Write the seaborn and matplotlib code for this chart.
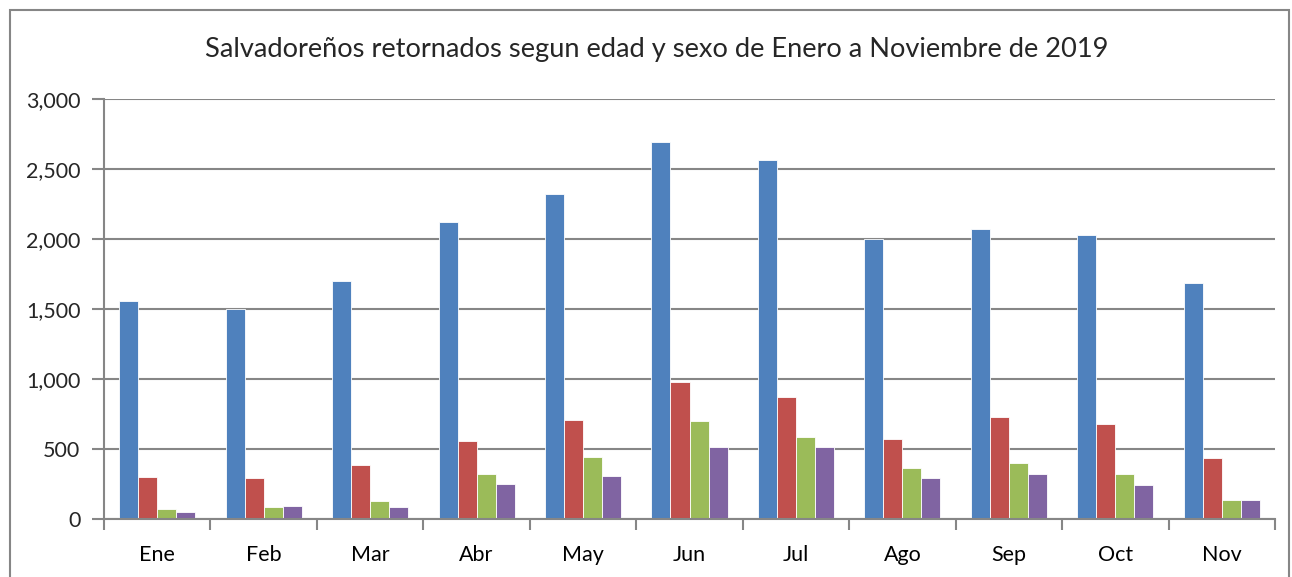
import numpy as np
import pandas as pd
import matplotlib
matplotlib.use("Agg")
import matplotlib.pyplot as plt
import seaborn as sns
from matplotlib.patches import Rectangle

meses = ["Ene", "Feb", "Mar", "Abr", "May", "Jun", "Jul", "Ago", "Sep", "Oct", "Nov"]
serie_a = [1555, 1500, 1702, 2121, 2319, 2690, 2566, 2002, 2071, 2028, 1685]
serie_b = [302, 293, 388, 555, 705, 976, 871, 569, 728, 676, 438]
serie_c = [69, 83, 131, 321, 445, 698, 585, 364, 398, 324, 136]
serie_d = [48, 90, 83, 248, 307, 512, 512, 290, 324, 243, 136]
series_names = ["Serie 1", "Serie 2", "Serie 3", "Serie 4"]
colors = ["#4F81BD", "#C0504D", "#9BBB59", "#8064A2"]
yticks = [0, 500, 1000, 1500, 2000, 2500, 3000]

rows = []
for name, vals in zip(series_names, [serie_a, serie_b, serie_c, serie_d]):
    for m, v in zip(meses, vals):
        rows.append({"mes": m, "serie": name, "valor": v})
df = pd.DataFrame(rows)

sns.set_theme(style="white")
plt.rcParams["font.family"] = ["Lato", "DejaVu Sans"]

fig = plt.figure(figsize=(12.92, 5.77), dpi=100)
ax = fig.add_axes([104/1292, 1-519/577, (1275-104)/1292, (519-99)/577])

sns.barplot(data=df, x="mes", y="valor", hue="serie", order=meses,
            hue_order=series_names, palette=colors, width=0.714,
            saturation=1, edgecolor="white", linewidth=0.6, ax=ax, legend=False)

ax.set_ylim(0, 3000)
ax.set_xlim(-0.5, len(meses) - 0.5)
ax.set_yticks(yticks)
ax.set_yticklabels([f"{v:,}" for v in yticks], fontsize=15.5)
ax.set_xticks(range(len(meses)))
ax.set_xticklabels(meses, fontsize=15.5)
ax.set_xticks(np.arange(-0.5, len(meses), 1), minor=True)
ax.tick_params(axis="x", which="major", length=0, pad=19, colors="black")
ax.tick_params(axis="x", which="minor", length=8, width=1.5, color="#868686", bottom=True)
ax.tick_params(axis="y", which="major", length=9, width=1.5, color="#868686", left=True, pad=8)
ax.set_xlabel("")
ax.set_ylabel("")
ax.grid(axis="y", color="#868686", linewidth=1.5)
ax.set_axisbelow(True)
for s in ["top", "right"]:
    ax.spines[s].set_visible(False)
for s in ["left", "bottom"]:
    ax.spines[s].set_color("#868686")
    ax.spines[s].set_linewidth(1.5)

fig.text(657/1292, 1 - 49/577,
         "Salvadoreños retornados segun edad y sexo de Enero a Noviembre de 2019",
         ha="center", va="center", fontsize=19.6)

fig.patches.append(Rectangle((10/1292, -0.1), (1289-10)/1292, 1.1 - 10/577,
                             transform=fig.transFigure, fill=False,
                             edgecolor="#868686", linewidth=1.5))

fig.savefig("out.png", dpi=100)
